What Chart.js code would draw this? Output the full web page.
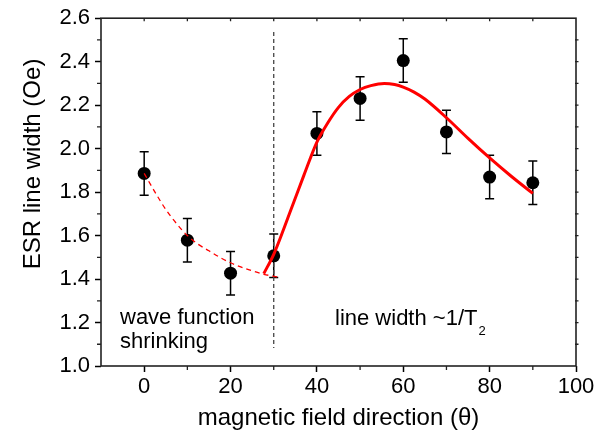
<!DOCTYPE html>
<html>
<head>
<meta charset="utf-8">
<script src="https://cdn.jsdelivr.net/npm/chart.js@4/dist/chart.umd.min.js"></script>
<style>
  html, body { margin: 0; padding: 0; background: #fff; }
  #wrap { width: 607px; height: 437px; }
</style>
</head>
<body>
<div id="wrap"><canvas id="c" width="607" height="437"></canvas></div>
<script>
// ---- data ----
const thetaData = [0, 10, 20, 30, 40, 50, 60, 70, 80, 90];
const widthData = [1.886, 1.579, 1.427, 1.507, 2.070, 2.231, 2.405, 2.077, 1.869, 1.843];
const errData   = [0.10, 0.10, 0.10, 0.10, 0.10, 0.10, 0.10, 0.10, 0.10, 0.10];

// dashed guide curve (wave function shrinking)
const dashTheta = [0, 2.5, 5, 7.5, 10, 12.5, 15, 17.5, 20, 22.5, 25, 27.7, 30.8];
const dashVal   = [1.886, 1.80, 1.72, 1.655, 1.60, 1.56, 1.53, 1.50, 1.475, 1.455, 1.438, 1.422, 1.41];

// solid fit curve (line width ~1/T2)
const fitTheta = [27.7, 30, 32.4, 34.7, 37, 40, 42.5, 45, 47.5, 50, 52.5, 55.6, 58, 60, 62.5, 65, 70, 75, 80, 85, 90];
const fitVal   = [1.425, 1.514, 1.635, 1.757, 1.878, 2.03, 2.118, 2.19, 2.24, 2.272, 2.29, 2.30, 2.295, 2.283, 2.26, 2.228, 2.142, 2.047, 1.957, 1.873, 1.794];

// vertical separator
const sepTheta = [30, 30];
const sepVal   = [2.537, 1.083];

// ticks
const xTicks = [0, 20, 40, 60, 80, 100];
const xMinor = [10, 30, 50, 70, 90];
const yTicks = [1.0, 1.2, 1.4, 1.6, 1.8, 2.0, 2.2, 2.4, 2.6];
const yMinor = [1.1, 1.3, 1.5, 1.7, 1.9, 2.1, 2.3, 2.5];

const xTitle = 'magnetic field direction (\u03B8)';
const yTitle = 'ESR line width (Oe)';
const noteLeft = ['wave function', 'shrinking'];
const noteRight = 'line width ~1/T';
const noteRightSub = '2';

const zip = (xs, ys) => xs.map((x, i) => ({ x: x, y: ys[i] }));
const FONT = 'Arial, "Liberation Sans", sans-serif';

const decor = {
  id: 'decor',
  beforeDatasetsDraw(chart) {
    const ctx = chart.ctx, xs = chart.scales.x, ys = chart.scales.y;
    ctx.save();
    ctx.strokeStyle = '#000';
    ctx.lineWidth = 1.5;
    thetaData.forEach((t, i) => {
      const px = xs.getPixelForValue(t);
      const top = ys.getPixelForValue(widthData[i] + errData[i]);
      const bot = ys.getPixelForValue(widthData[i] - errData[i]);
      ctx.beginPath();
      ctx.moveTo(px, top); ctx.lineTo(px, bot);
      ctx.moveTo(px - 4.5, top); ctx.lineTo(px + 4.5, top);
      ctx.moveTo(px - 4.5, bot); ctx.lineTo(px + 4.5, bot);
      ctx.stroke();
    });
    ctx.restore();
  },
  afterDraw(chart) {
    const ctx = chart.ctx, xs = chart.scales.x, ys = chart.scales.y;
    const a = chart.chartArea;
    ctx.save();
    // frame
    ctx.strokeStyle = '#222';
    ctx.lineWidth = 1.6;
    ctx.strokeRect(a.left, a.top, a.right - a.left, a.bottom - a.top);
    // minor ticks
    ctx.lineWidth = 1.3;
    ctx.beginPath();
    xMinor.forEach(v => {
      const p = xs.getPixelForValue(v);
      ctx.moveTo(p, a.bottom); ctx.lineTo(p, a.bottom + 4);
    });
    yMinor.forEach(v => {
      const p = ys.getPixelForValue(v);
      ctx.moveTo(a.left, p); ctx.lineTo(a.left - 4, p);
    });
    // top ticks (inward) and right ticks
    xTicks.concat(xMinor).forEach(v => {
      const p = xs.getPixelForValue(v);
      if (v < 100) { ctx.moveTo(p, a.top); ctx.lineTo(p, a.top + 3); }
    });
    yTicks.concat(yMinor).forEach(v => {
      const p = ys.getPixelForValue(v);
      if (v > 1.0 && v < 2.6) { ctx.moveTo(a.right - 1, p); ctx.lineTo(a.right + 2.5, p); }
    });
    ctx.stroke();

    // titles
    ctx.fillStyle = '#000';
    ctx.font = '24px ' + FONT;
    ctx.textAlign = 'center';
    ctx.textBaseline = 'alphabetic';
    ctx.fillText(xTitle, (a.left + a.right) / 2, 425);
    ctx.save();
    ctx.translate(40, 164);
    ctx.rotate(-Math.PI / 2);
    ctx.fillText(yTitle, 0, 0);
    ctx.restore();

    // annotations
    ctx.font = '22px ' + FONT;
    ctx.textAlign = 'left';
    ctx.fillText(noteLeft[0], 120, 324);
    ctx.fillText(noteLeft[1], 120, 348);
    ctx.fillText(noteRight, 335, 325);
    const w = ctx.measureText(noteRight).width;
    ctx.font = '13px ' + FONT;
    ctx.fillText(noteRightSub, 335 + w + 1, 335);
    ctx.restore();
  }
};

new Chart(document.getElementById('c'), {
  type: 'scatter',
  data: {
    datasets: [
      { data: zip(fitTheta, fitVal), showLine: true, borderColor: '#ff0000', borderWidth: 3,
        pointRadius: 0, cubicInterpolationMode: 'monotone', fill: false },
      { data: zip(dashTheta, dashVal), showLine: true, borderColor: '#ff0000', borderWidth: 1.3,
        borderDash: [5, 4], pointRadius: 0, cubicInterpolationMode: 'monotone', fill: false },
      { data: zip(thetaData, widthData), showLine: false, pointRadius: 6.5,
        pointBackgroundColor: '#000', pointBorderColor: '#000', pointBorderWidth: 0 },
      { data: zip(sepTheta, sepVal), showLine: true, borderColor: '#444', borderWidth: 1.3,
        borderDash: [4, 3], pointRadius: 0, fill: false }
    ]
  },
  options: {
    responsive: false,
    animation: false,
    events: [],
    layout: { padding: { left: 0, top: 15, right: 31, bottom: 0 } },
    plugins: { legend: { display: false }, tooltip: { enabled: false } },
    scales: {
      x: {
        type: 'linear', min: -10, max: 100,
        afterBuildTicks: s => { s.ticks = xTicks.map(v => ({ value: v })); },
        afterFit: s => { s.height = 71; },
        grid: { display: true, drawOnChartArea: false, drawTicks: true, tickLength: 6,
                tickColor: '#000', tickWidth: 1.5 },
        border: { display: false },
        ticks: { color: '#000', font: { family: FONT, size: 22 }, padding: 2, maxRotation: 0,
                 callback: v => String(v) }
      },
      y: {
        type: 'linear', min: 1.0, max: 2.6,
        afterBuildTicks: s => { s.ticks = yTicks.map(v => ({ value: v })); },
        afterFit: s => { s.width = 101; },
        grid: { display: true, drawOnChartArea: false, drawTicks: true, tickLength: 6,
                tickColor: '#000', tickWidth: 1.5 },
        border: { display: false },
        ticks: { color: '#000', font: { family: FONT, size: 22 }, padding: 5,
                 callback: v => Number(v).toFixed(1) }
      }
    }
  },
  plugins: [decor]
});
</script>
</body>
</html>
